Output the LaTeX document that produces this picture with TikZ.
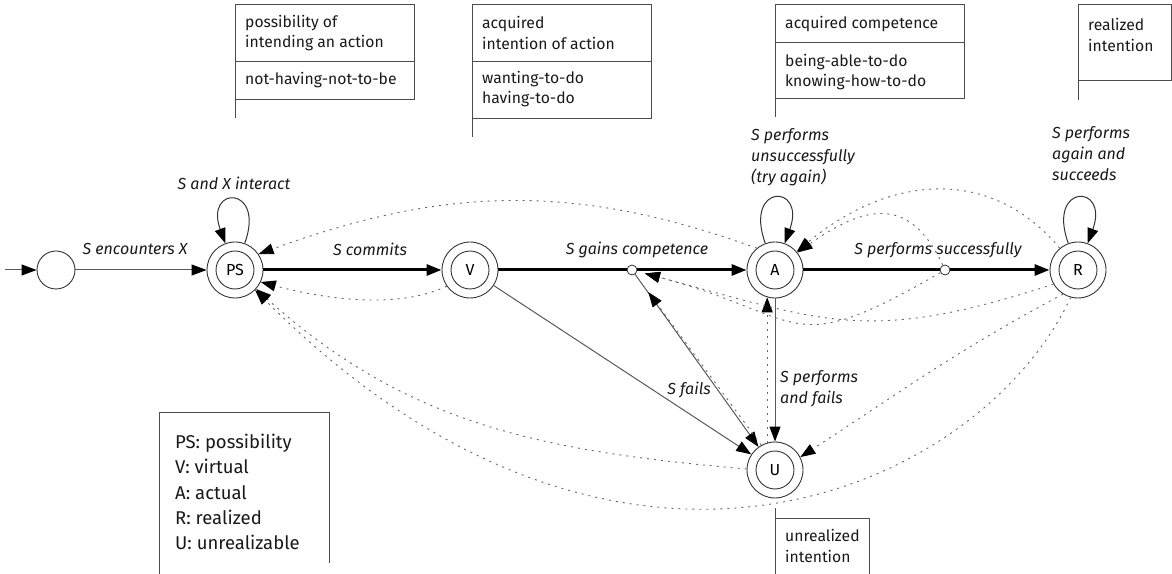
\documentclass[tikz,border=0pt]{standalone}
\usepackage{fontspec}
\setmainfont{Fira Sans}
\usetikzlibrary{arrows.meta}
\begin{document}
\begin{tikzpicture}[x=1pt,y=1pt,
  >={Triangle[length=15pt,width=11pt,color=black]},
  txt/.style={font=\fontsize{15.7}{20.5}\selectfont, text=black!90, inner sep=0pt},
  lbl/.style={font=\fontsize{16}{21}\selectfont\itshape, text=black!90, inner sep=0pt},
  state/.style={circle, draw=black!80, line width=0.9pt, minimum size=56pt, inner sep=0pt,
    font=\fontsize{16}{18}\selectfont,
    path picture={\draw[black!80, line width=0.9pt] (path picture bounding box.center) circle (19pt);}},
  plain/.style={circle, draw=black!80, line width=0.9pt, minimum size=38pt, inner sep=0pt},
  mid/.style={circle, draw=black!80, fill=white, line width=0.8pt, minimum size=10pt, inner sep=0pt},
  thin edge/.style={->, draw=black!65, line width=1pt},
  loop edge/.style={->, draw=black!80, line width=1pt},
  thick edge/.style={->, draw=black, line width=3pt},
  thick line/.style={draw=black, line width=3pt},
  dot edge/.style={->, draw=black!60, line width=0.9pt, dash pattern=on 2pt off 5pt},
  box/.style={draw=black!70, line width=1pt},
]
\useasboundingbox (0,0) rectangle (1172,573);

% states
\coordinate (init) at (5,303);
\node[plain] (s0) at (56,303) {};
\node[state] (PS) at (235,303) {PS};
\node[state] (V) at (470,303) {V};
\node[state] (A) at (775,303) {A};
\node[state] (R) at (1078,303) {R};
\node[state] (U) at (775,103) {U};
\node[mid] (c1) at (632,303) {};
\node[mid] (c2) at (945,303) {};

% solid transitions
\draw[thin edge] (init) -- (s0);
\draw[thin edge] (s0) -- (PS);
\draw[thick edge] (PS) -- (V);
\draw[thick line] (V) -- (c1);
\draw[thick edge] (c1) -- (A);
\draw[thick line] (A) -- (c2);
\draw[thick edge] (c2) -- (R);
\draw[thin edge] (V) -- (U);
\draw[thin edge] (c1) -- (U);
\draw[thin edge] (A) -- (U);

% loops
\draw[loop edge] (PS) to[out=70,in=110,distance=62pt] (PS);
\draw[loop edge] (A) to[out=110,in=70,distance=64pt] (A);
\draw[loop edge] (R) to[out=110,in=70,distance=64pt] (R);

% dotted regressions
\draw[dot edge] (A.130) to[out=160,in=20] (PS.34);
\draw[dot edge] (V.215) to[out=205,in=-15,looseness=0.8] (PS.-25);
\draw[dot edge] (U.178) to[out=175,in=-42] (PS.-42);
\draw[dot edge] (R.255) to[out=245,in=-45,out distance=210pt,in distance=520pt] (PS.-45);
\draw[dot edge] (R.238) to[out=208,in=33] (U.27);
\draw[dot edge] (U.106) -- (A.254);
\draw[dot edge, shorten >=22pt] (U.119) -- (c1);
\draw[dot edge, shorten >=8pt] (R.210) to[out=198,in=-15,looseness=1.2] (c1);
\draw[dot edge, shorten >=8pt] (c2) to[out=210,in=-15,looseness=1.5] (c1);
\draw[dot edge] (R.130) to[out=130,in=40,looseness=1.1] (A.40);
\draw[dot edge] (c2) to[out=115,in=35,looseness=1.4] (A.38);

% edge labels
\node[lbl] (l1) at (135,324) {S encounters X};
\node[lbl] (l2) at (234,390) {S and X interact};
\node[lbl] (l3) at (370,324) {S commits};
\node[lbl] (l4) at (637,323) {S gains competence};
\node[lbl, anchor=west, align=left] (l5) at (751,416) {S performs\\unsuccessfully\\(try again)};
\node[lbl] (l6) at (938,323) {S performs successfully};
\node[lbl, anchor=west, align=left] (l7) at (1052,419) {S performs\\again and\\succeeds};
\node[lbl] (l8) at (689,183) {S fails};
\node[lbl, anchor=west, align=left] (l9) at (780,184) {S performs\\and fails};

% annotation boxes
\draw[box] (235,455) -- (235,568) -- (414,568) -- (414,473) -- (235,473);
\draw[box] (235,511) -- (414,511);
\node[txt, anchor=west, align=left] (b1a) at (245,540) {possibility of\\intending an action};
\node[txt, anchor=west, align=left] (b1b) at (245,493) {not-having-not-to-be};

\draw[box] (472,436) -- (472,568) -- (651,568) -- (651,454) -- (472,454);
\draw[box] (472,511) -- (651,511);
\node[txt, anchor=west, align=left] (b2a) at (482,540) {acquired\\intention of action};
\node[txt, anchor=west, align=left] (b2b) at (482,484) {wanting-to-do\\having-to-do};

\draw[box] (775,456) -- (775,568) -- (964,568) -- (964,474) -- (775,474);
\draw[box] (775,530) -- (964,530);
\node[txt, anchor=west, align=left] (b3a) at (785,549) {acquired competence};
\node[txt, anchor=west, align=left] (b3b) at (785,501) {being-able-to-do\\knowing-how-to-do};

\draw[box] (1078,473) -- (1078,568) -- (1171.5,568) -- (1171.5,492) -- (1078,492);
\node[txt, anchor=west, align=left] (b4) at (1088,538) {realized\\intention};

\draw[box] (775,65) -- (775,-5);
\draw[box] (775,55) -- (869,55) -- (869,-5);
\node[txt, anchor=west, align=left] (b5) at (785,27) {unrealized\\intention};

% legend
\draw[box] (159,-5) -- (159,160) -- (329,160) -- (329,10);
\node[txt, anchor=west, align=left, font=\fontsize{18.5}{25.3}\selectfont] (leg) at (175,81)
  {PS: possibility\\V: virtual\\A: actual\\R: realized\\U: unrealizable};
\end{tikzpicture}
\end{document}
